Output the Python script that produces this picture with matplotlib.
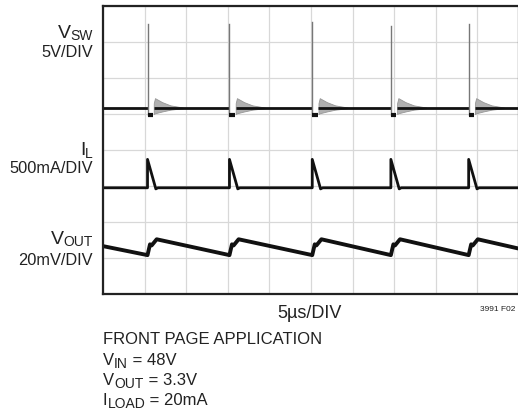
import numpy as np
import matplotlib.pyplot as plt

plt.rcParams['font.family'] = 'Liberation Sans'

# scope traces, x in divisions (5us/DIV), y in divisions from bottom
events = [1.07, 3.04, 5.03, 6.92, 8.79]
spike_top = [7.50, 7.50, 7.55, 7.45, 7.50]

vsw_base = 5.17
vsw_dip = 4.97
dip_len = 0.13
ring_t = [0.15, 0.18, 0.35, 0.55, 0.85]
ring_hi = [5.30, 5.44, 5.33, 5.24, 5.18]
ring_lo = [5.00, 5.02, 5.07, 5.12, 5.16]

il_base = 2.95
il_t = [0.0, 0.20, 0.25]
il_v = [3.74, 2.92, 2.95]

vout_start = 1.33
vout_end = 1.26
vout_t = [0.0, 0.06, 0.10, 0.22]
vout_v = [1.08, 1.38, 1.35, 1.52]

W, H = 518, 412
fig = plt.figure(figsize=(W/100, H/100), dpi=100)
ax = fig.add_axes([103/W, 118/H, 416/W, 288/H])
ax.set_xlim(0, 10)
ax.set_ylim(0, 8)
ax.set_xticks(range(11))
ax.set_yticks(range(9))
ax.tick_params(length=0, labelbottom=False, labelleft=False)
ax.grid(True, color='#d8d8d8', lw=0.9)
ax.set_axisbelow(True)
for s in ax.spines.values():
    s.set_linewidth(1.6)
    s.set_color('#222222')

# VSW
bx, by = [0], [vsw_base]
for e in events:
    bx += [e, np.nan, e + ring_t[0]]
    by += [vsw_base, np.nan, vsw_base]
bx.append(10)
by.append(vsw_base)
ax.plot(bx, by, color='#111111', lw=2.0, solid_capstyle='butt')
for e, top in zip(events, spike_top):
    ax.plot([e, e], [vsw_dip, top], color='#777777', lw=1.0)
    ax.plot([e, e + dip_len], [vsw_dip, vsw_dip], color='#111111', lw=3.0, solid_capstyle='butt')
    rt = [e + t for t in ring_t]
    ax.fill_between(rt, ring_lo, ring_hi, color='#b0b0b0', lw=0.6, edgecolor='#969696')

# IL
ix, iy = [0], [il_base]
for e in events:
    ix.append(e)
    iy.append(il_base)
    ix += [e + t for t in il_t]
    iy += il_v
ix.append(10)
iy.append(il_base)
ax.plot(ix, iy, color='#111111', lw=2.0)

# VOUT
vx, vy = [0], [vout_start]
for e in events:
    vx += [e + t for t in vout_t]
    vy += vout_v
vx.append(10)
vy.append(vout_end)
ax.plot(vx, vy, color='#111111', lw=2.8)


def px(x, y):
    return x / W, 1 - y / H


renderer = fig.canvas.get_renderer()


def rich(x, y, parts, ha='left'):
    # parts: (text, fontsize, drop in px)
    objs = [(fig.text(0, 0, s, fontsize=fs, color='#222222', va='baseline'), dy)
            for s, fs, dy in parts]
    widths = [t.get_window_extent(renderer).width for t, _ in objs]
    x0 = x - sum(widths) if ha == 'right' else x
    for (t, dy), w in zip(objs, widths):
        t.set_position(px(x0, y + dy))
        x0 += w


rich(93, 37.5, [('V', 14, 0), ('SW', 10, 2.5)], ha='right')
fig.text(*px(93, 57), '5V/DIV', ha='right', fontsize=11.8, color='#222222', va='baseline')
rich(93, 155, [('I', 14, 0), ('L', 10, 2.5)], ha='right')
fig.text(*px(93, 173), '500mA/DIV', ha='right', fontsize=11.8, color='#222222', va='baseline')
rich(93, 244, [('V', 14, 0), ('OUT', 10, 2.5)], ha='right')
fig.text(*px(93, 265), '20mV/DIV', ha='right', fontsize=11.8, color='#222222', va='baseline')

fig.text(*px(310, 318), '5µs/DIV', ha='center', fontsize=13, color='#222222', va='baseline')
fig.text(*px(515, 311), '3991 F02', ha='right', fontsize=6, color='#222222', va='baseline')
fig.text(*px(103, 344), 'FRONT PAGE APPLICATION', ha='left', fontsize=12, color='#222222', va='baseline')
rich(103, 365, [('V', 12, 0), ('IN', 10, 3.5), (' = 48V', 12, 0)])
rich(103, 385, [('V', 12, 0), ('OUT', 10, 3.5), (' = 3.3V', 12, 0)])
rich(103, 405, [('I', 12, 0), ('LOAD', 10, 3.5), (' = 20mA', 12, 0)])

fig.savefig('out.png', dpi=100)
